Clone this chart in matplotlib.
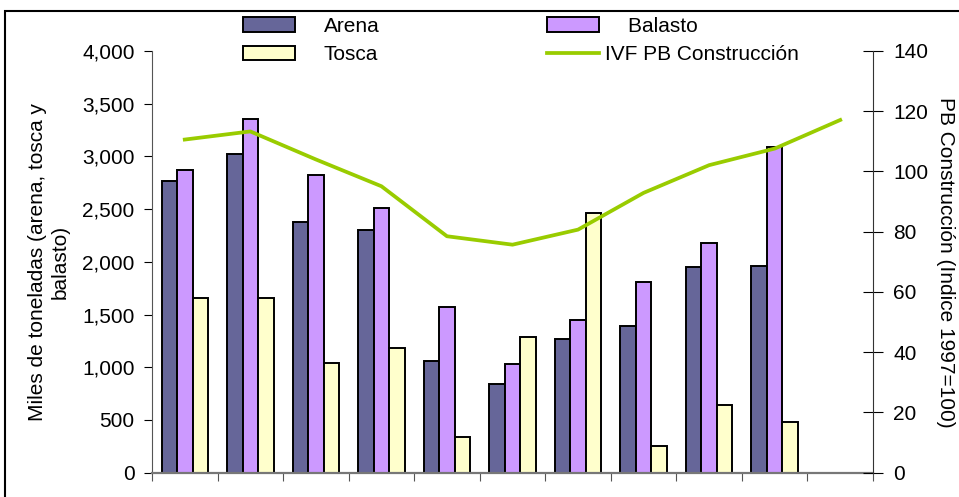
import numpy as np
import matplotlib
matplotlib.use("Agg")
import matplotlib.pyplot as plt
from matplotlib.patches import Rectangle
from matplotlib.ticker import FuncFormatter

# Datos (miles de toneladas / indice)
arena = [2770, 3020, 2375, 2305, 1055, 840, 1265, 1395, 1950, 1965]
balasto = [2875, 3355, 2820, 2515, 1570, 1035, 1445, 1805, 2180, 3090]
tosca = [1660, 1660, 1040, 1180, 340, 1285, 2465, 255, 645, 480]
ivf_pb = [110.6, 113.3, 104.0, 95.1, 78.5, 75.7, 80.7, 92.9, 102.1, 107.6, 117.1]

plt.rcParams['font.family'] = ['Liberation Sans', 'DejaVu Sans']
plt.rcParams['font.size'] = 15

fig = plt.figure(figsize=(9.59, 4.97), dpi=100)
ax = fig.add_axes([152 / 959, 1 - 472.7 / 497, (873 - 152) / 959, (472.7 - 51) / 497])
ax2 = ax.twinx()

# marco del area del grafico
fig.patches.append(Rectangle((5 / 959, -0.1), 1.2, 1 - 11 / 497 + 0.1,
                             transform=fig.transFigure, fill=False,
                             edgecolor='black', linewidth=1.5))

n = len(ivf_pb)
x = np.arange(len(arena))
w = 0.236
bar_kw = dict(width=w, edgecolor='black', linewidth=1.4, zorder=2)
b1 = ax.bar(x - w, arena, color='#666699', label='Arena', **bar_kw)
b2 = ax.bar(x, balasto, color='#CC99FF', label='Balasto', **bar_kw)
b3 = ax.bar(x + w, tosca, color='#FFFFCC', label='Tosca', **bar_kw)

ln, = ax2.plot(np.arange(n), ivf_pb, color='#99CC00', linewidth=2.7,
               label='IVF PB Construcción', zorder=3)

ax.set_xlim(-0.5, n - 0.5)
ax.set_ylim(0, 4000)
ax.set_yticks(np.arange(0, 4001, 500))
ax.yaxis.set_major_formatter(FuncFormatter(lambda v, p: f"{int(v):,}"))
ax.set_xticks(np.arange(-0.5, n, 1.0))
ax.set_xticklabels([])
ax2.set_ylim(0, 140)
ax2.set_yticks(np.arange(0, 141, 20))

ax.spines['top'].set_visible(False)
ax2.spines['top'].set_visible(False)
ax.spines['left'].set_color('#555555')
ax.spines['bottom'].set_color('#777777')
ax.spines['bottom'].set_linewidth(1.6)
ax2.spines['right'].set_color('#333333')
ax2.spines['left'].set_visible(False)
ax2.spines['bottom'].set_visible(False)
ax.spines['right'].set_visible(False)

ax.tick_params(axis='y', direction='out', length=6, pad=6.5, labelsize=15)
ax.tick_params(axis='x', direction='out', length=6, color='#555555')
ax2.tick_params(axis='y', direction='inout', length=14, pad=7.4, labelsize=15)

ax.set_ylabel("Miles de toneladas (arena, tosca y\nbalasto)", fontsize=15,
              linespacing=1.25)
ax.yaxis.set_label_coords(-0.114, 0.5)
ax2.set_ylabel("PB Construcción (Indice 1997=100)", fontsize=15,
               rotation=270, va='bottom')
ax2.yaxis.set_label_coords(1.087, 0.5)

leg1 = fig.legend([b1, b3], ['Arena', 'Tosca'], loc='upper left',
                  bbox_to_anchor=(224 / 959, 1 + 2 / 497), frameon=False,
                  handlelength=2.5, handleheight=0.7, handletextpad=1.4,
                  labelspacing=0.45, fontsize=15)
leg2 = fig.legend([b2, ln], ['    Balasto', 'IVF PB Construcción'], loc='upper left',
                  bbox_to_anchor=(528 / 959, 1 + 2 / 497), frameon=False,
                  handlelength=2.5, handleheight=0.7, handletextpad=0.3,
                  labelspacing=0.45, fontsize=15)

fig.savefig("out.png", dpi=100)
